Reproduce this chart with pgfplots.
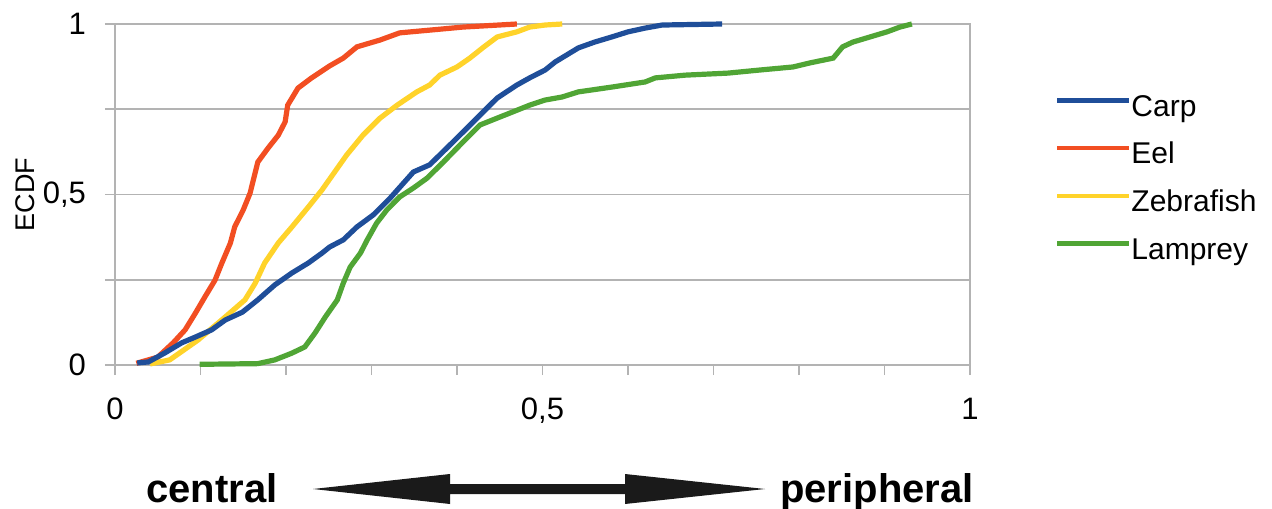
\documentclass[border=0pt]{standalone}
\usepackage{fontspec}
\setmainfont{Liberation Sans}
\usepackage{pgfplots}
\pgfplotsset{compat=1.18}
\definecolor{carp}{HTML}{1F4E99}
\definecolor{eel}{HTML}{F24E22}
\definecolor{zebra}{HTML}{FFD32A}
\definecolor{lamprey}{HTML}{50A535}
\definecolor{gridgray}{HTML}{B3B3B3}
\definecolor{arrowdark}{HTML}{1A1A1A}
\begin{document}
\begin{tikzpicture}
\path[use as bounding box] (-57.5pt,-71.5pt) rectangle (578.5pt,182.5pt);
\begin{axis}[
  at={(0pt,0pt)}, anchor=south west,
  scale only axis, width=427.5pt, height=170.5pt,
  xmin=0, xmax=1, ymin=0, ymax=1,
  clip=false,
  axis line style={draw=gridgray, line width=0.8pt},
  xtick={0,0.5,1}, minor xtick={0.1,0.2,0.3,0.4,0.6,0.7,0.8,0.9},
  ytick={0,0.5,1}, minor ytick={0.25,0.75},
  ymajorgrids, yminorgrids,
  major grid style={gridgray, line width=0.8pt},
  minor grid style={gridgray, line width=0.8pt},
  tick pos=left, tick align=outside,
  major tick length=5pt, minor tick length=5pt,
  every tick/.style={gridgray, line width=0.8pt},
  every minor tick/.style={gridgray, line width=0.8pt},
  /pgf/number format/.cd, use comma, assume math mode=true, /pgfplots/.cd,
  ticklabel style={font=\fontsize{15.5}{19}\selectfont},
  xticklabel style={yshift=-8pt},
  yticklabel style={xshift=-6pt},
  ylabel={ECDF},
  ylabel style={at={(axis description cs:-0.105,0.5)}, anchor=center, font=\fontsize{13.5}{16}\selectfont},
  legend style={at={(axis description cs:1.099,0.795)}, anchor=north west, draw=none, fill=none,
    font=\fontsize{15}{18}\selectfont, row sep=9.6pt, inner sep=0pt,
    nodes={inner sep=0pt, text height=11pt, text depth=3.2pt},
    /tikz/every even column/.append style={column sep=6.5pt}},
  legend cell align=left,
  legend image code/.code={\draw[#1] (0pt,4pt) -- (36pt,4pt);},
]
\addlegendimage{carp, line width=2.2pt}\addlegendentry{Carp}
\addlegendimage{eel, line width=2.2pt}\addlegendentry{Eel}
\addlegendimage{zebra, line width=2.2pt}\addlegendentry{Zebrafish}
\addlegendimage{lamprey, line width=2.2pt}\addlegendentry{Lamprey}

% Eel
\addplot[eel, line width=2.6pt, forget plot] coordinates {
(0.025,0.005)(0.050,0.023)(0.068,0.065)(0.082,0.103)(0.094,0.152)(0.105,0.199)
(0.117,0.249)(0.125,0.299)(0.135,0.358)(0.140,0.405)(0.150,0.455)(0.158,0.504)
(0.167,0.595)(0.179,0.636)(0.191,0.674)(0.199,0.713)(0.202,0.762)(0.214,0.812)
(0.230,0.842)(0.251,0.877)(0.267,0.900)(0.283,0.933)(0.310,0.953)(0.333,0.974)
(0.368,0.982)(0.407,0.991)(0.470,1.000)};
% Zebrafish
\addplot[zebra, line width=2.6pt, forget plot] coordinates {
(0.041,0.003)(0.064,0.015)(0.097,0.073)(0.129,0.141)(0.152,0.191)(0.164,0.240)
(0.175,0.299)(0.191,0.358)(0.207,0.405)(0.226,0.463)(0.242,0.513)(0.271,0.616)
(0.290,0.674)(0.310,0.724)(0.330,0.762)(0.353,0.801)(0.368,0.821)(0.380,0.850)
(0.400,0.874)(0.415,0.900)(0.430,0.930)(0.447,0.962)(0.470,0.977)(0.485,0.991)
(0.503,0.997)(0.523,1.000)};
% Lamprey
\addplot[lamprey, line width=2.6pt, forget plot] coordinates {
(0.099,0.002)(0.167,0.004)(0.187,0.015)(0.207,0.035)(0.222,0.053)(0.234,0.094)
(0.246,0.141)(0.260,0.191)(0.267,0.240)(0.275,0.287)(0.287,0.328)(0.295,0.367)
(0.306,0.416)(0.318,0.455)(0.333,0.493)(0.349,0.519)(0.365,0.548)(0.384,0.595)
(0.407,0.654)(0.427,0.704)(0.447,0.724)(0.465,0.742)(0.485,0.762)(0.503,0.777)
(0.523,0.786)(0.542,0.801)(0.581,0.815)(0.620,0.830)(0.632,0.842)(0.667,0.850)
(0.717,0.856)(0.754,0.865)(0.793,0.874)(0.813,0.886)(0.840,0.900)(0.851,0.933)
(0.863,0.947)(0.883,0.962)(0.903,0.977)(0.918,0.991)(0.932,1.000)};
% Carp
\addplot[carp, line width=2.6pt, forget plot] coordinates {
(0.026,0.006)(0.039,0.009)(0.058,0.035)(0.078,0.065)(0.094,0.082)(0.113,0.103)
(0.129,0.132)(0.149,0.155)(0.167,0.191)(0.187,0.235)(0.207,0.270)(0.226,0.299)
(0.242,0.328)(0.251,0.346)(0.267,0.367)(0.283,0.405)(0.302,0.440)(0.322,0.490)
(0.349,0.566)(0.368,0.587)(0.388,0.636)(0.407,0.683)(0.427,0.733)(0.447,0.783)
(0.470,0.821)(0.485,0.842)(0.503,0.865)(0.515,0.889)(0.542,0.930)(0.561,0.947)
(0.581,0.962)(0.600,0.977)(0.620,0.988)(0.640,0.997)(0.710,1.000)};
\end{axis}
\node[anchor=base, font=\bfseries\fontsize{20}{24}\selectfont] at (48.5pt,-68.5pt) {central};
\node[anchor=base, font=\bfseries\fontsize{20}{24}\selectfont] at (381pt,-68.5pt) {peripheral};
\fill[arrowdark] (99pt,-62pt) -- (167.5pt,-54.5pt) -- (167.5pt,-59.5pt) -- (255pt,-59.5pt)
  -- (255pt,-54.5pt) -- (325pt,-62pt) -- (255pt,-69.5pt) -- (255pt,-64.5pt)
  -- (167.5pt,-64.5pt) -- (167.5pt,-69.5pt) -- cycle;
\end{tikzpicture}
\end{document}
